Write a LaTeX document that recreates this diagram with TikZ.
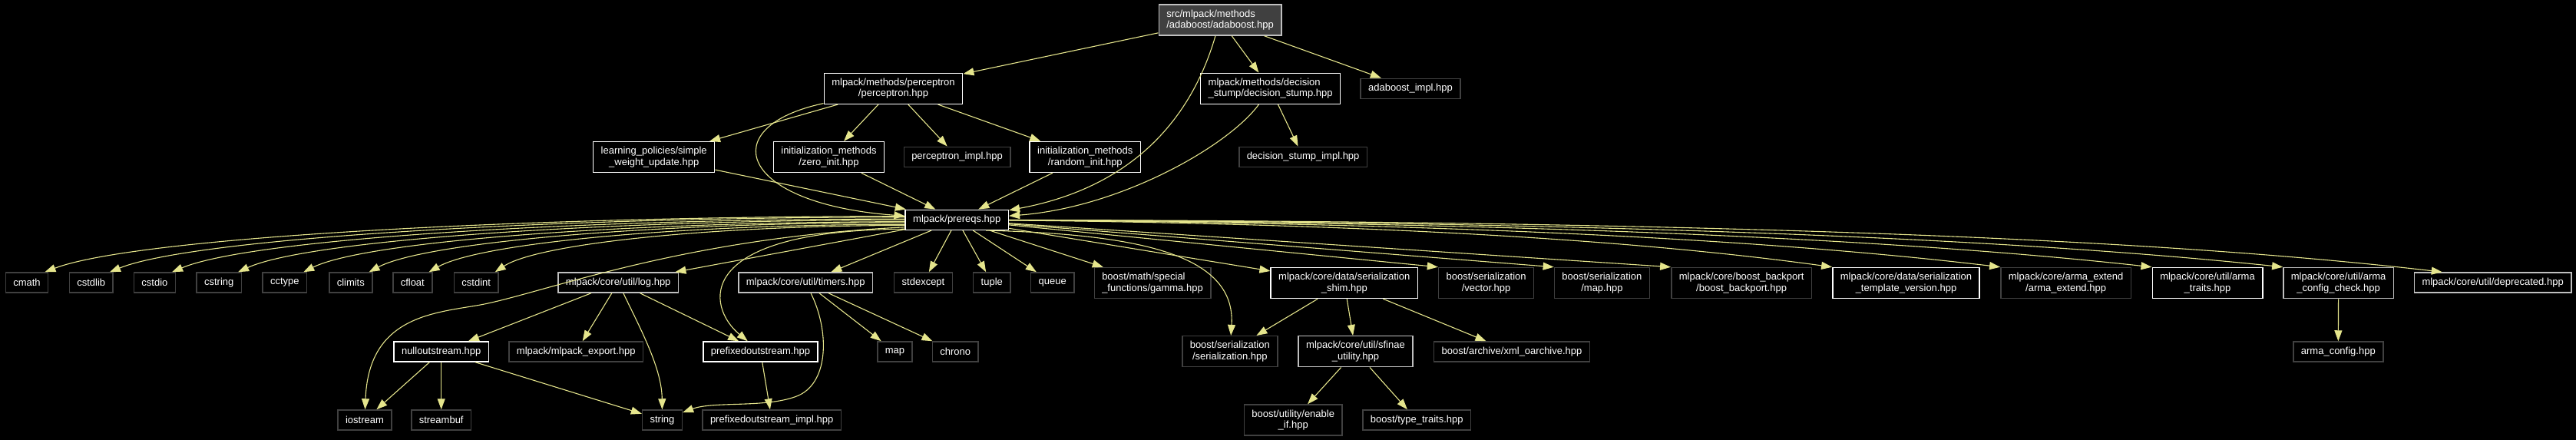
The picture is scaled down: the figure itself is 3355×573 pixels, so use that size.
\documentclass[tikz,border=0pt]{standalone}
\usepackage{fontspec}
\setmainfont{Liberation Sans}
\usepackage{xcolor}
\usepackage{tikz}
\usetikzlibrary{arrows.meta}
\definecolor{edgecol}{RGB}{229,229,140}
\definecolor{doxgrey}{RGB}{191,191,191}
\definecolor{doxdark}{RGB}{64,64,64}

\begin{document}
\begin{tikzpicture}[x=1pt, y=-1pt, >={Triangle[length=14pt,width=10pt]},
    filebox/.style={rectangle, fill=black, text=white, line width=1.5pt,
        inner xsep=10pt, inner ysep=2pt, minimum height=26pt, align=center,
        font=\fontsize{13}{14.5}\selectfont},
    docnode/.style={filebox, draw=white},
    greynode/.style={filebox, draw=doxgrey},
    extnode/.style={filebox, draw=doxdark},
    rootnode/.style={filebox, draw=doxgrey, fill=doxdark},
    twoline/.style={minimum height=40pt},
    dep/.style={->, draw=edgecol, line width=1.1pt}]
    % Nền
    \useasboundingbox[fill=black] (0,0) rectangle (3355,573);

    % Vẽ các nút phía trên
    \node[rootnode, twoline, align=left] (root) at (1589,26) {src/mlpack/methods\\/adaboost/adaboost.hpp};
    \node[docnode, twoline] (perceptron) at (1163.5,115.3) {mlpack/methods/perceptron\\/perceptron.hpp};
    \node[docnode, twoline, align=left] (dstump) at (1654.6,115.3) {mlpack/methods/decision\\\_stump/decision\_stump.hpp};
    \node[extnode] (adaimpl) at (1837,115.3) {adaboost\_impl.hpp};
    \node[docnode, twoline] (learnpol) at (851.7,204.7) {learning\_policies/simple\\\_weight\_update.hpp};
    \node[docnode, twoline] (zeroinit) at (1079.5,204.5) {initialization\_methods\\/zero\_init.hpp};
    \node[extnode] (percimpl) at (1246.5,204.3) {perceptron\_impl.hpp};
    \node[docnode, twoline] (randinit) at (1413.3,204.5) {initialization\_methods\\/random\_init.hpp};
    \node[extnode] (dsimpl) at (1697.1,204.3) {decision\_stump\_impl.hpp};
    \node[docnode] (prereqs) at (1246.3,286.3) {mlpack/prereqs.hpp};

    % Vẽ hàng giữa
    \node[extnode] (cmath) at (35,368) {cmath};
    \node[extnode] (cstdlib) at (118.8,368) {cstdlib};
    \node[extnode] (cstdio) at (201.4,368) {cstdio};
    \node[extnode] (cstring) at (285.2,368) {cstring};
    \node[extnode] (cctype) at (370.8,368) {cctype};
    \node[extnode] (climits) at (456.8,368) {climits};
    \node[extnode] (cfloat) at (537.3,368) {cfloat};
    \node[extnode] (cstdint) at (620.2,368) {cstdint};
    \node[greynode] (log) at (805.2,368) {mlpack/core/util/log.hpp};
    \node[greynode] (timers) at (1049.2,368) {mlpack/core/util/timers.hpp};
    \node[extnode] (stdexcept) at (1202.5,368) {stdexcept};
    \node[extnode] (tuple) at (1291.8,368) {tuple};
    \node[extnode] (queue) at (1370.8,368) {queue};
    \node[extnode, twoline, align=left] (gamma) at (1501,368.5) {boost/math/special\\\_functions/gamma.hpp};
    \node[docnode, twoline] (shim) at (1750.8,368.5) {mlpack/core/data/serialization\\\_shim.hpp};
    \node[extnode, twoline] (svector) at (1935.6,368.5) {boost/serialization\\/vector.hpp};
    \node[extnode, twoline] (smap) at (2086.4,368.5) {boost/serialization\\/map.hpp};
    \node[extnode, twoline] (backport) at (2268.1,368.5) {mlpack/core/boost\_backport\\/boost\_backport.hpp};
    \node[docnode, twoline] (tmplver) at (2482.5,368.5) {mlpack/core/data/serialization\\\_template\_version.hpp};
    \node[extnode, twoline] (armaext) at (2690.6,368.5) {mlpack/core/arma\_extend\\/arma\_extend.hpp};
    \node[docnode, twoline] (armatraits) at (2875,368.5) {mlpack/core/util/arma\\\_traits.hpp};
    \node[greynode, twoline] (armacheck) at (3045.6,368.5) {mlpack/core/util/arma\\\_config\_check.hpp};
    \node[greynode] (deprecated) at (3246.6,368) {mlpack/core/util/deprecated.hpp};

    % Vẽ các nút phía dưới
    \node[docnode] (nullout) at (574.7,458) {nulloutstream.hpp};
    \node[extnode] (mlexport) at (750.3,458) {mlpack/mlpack\_export.hpp};
    \node[docnode] (prefout) at (990.5,458) {prefixedoutstream.hpp};
    \node[extnode] (stdmap) at (1165.4,458) {map};
    \node[extnode] (chrono) at (1244.3,458) {chrono};
    \node[extnode, twoline] (sser) at (1601.8,457.7) {boost/serialization\\/serialization.hpp};
    \node[greynode, twoline] (sfinae) at (1765.5,457.7) {mlpack/core/util/sfinae\\\_utility.hpp};
    \node[extnode] (xmlarch) at (1969,458) {boost/archive/xml\_oarchive.hpp};
    \node[extnode] (armaconfig) at (3045.3,458) {arma\_config.hpp};
    \node[extnode] (iostream) at (475,547) {iostream};
    \node[extnode] (streambuf) at (574.7,547) {streambuf};
    \node[extnode] (string) at (862.5,547) {string};
    \node[extnode] (prefimpl) at (1005.2,547) {prefixedoutstream\_impl.hpp};
    \node[extnode, twoline] (enableif) at (1684.2,547) {boost/utility/enable\\\_if.hpp};
    \node[extnode] (typetraits) at (1845.2,547) {boost/type\_traits.hpp};

    % Vẽ các mũi tên phía trên
    \draw[dep] (root) -- (perceptron);
    \draw[dep] (root) -- (dstump);
    \draw[dep] (root) -- (adaimpl);
    \draw[dep] (root) .. controls (1550,160) and (1470,245) .. (prereqs);
    \draw[dep] (perceptron) -- (learnpol);
    \draw[dep] (perceptron) -- (zeroinit);
    \draw[dep] (perceptron) -- (percimpl);
    \draw[dep] (perceptron) -- (randinit);
    \draw[dep] (perceptron) .. controls (930,165) and (960,265) .. (prereqs);
    \draw[dep] (learnpol) -- (prereqs);
    \draw[dep] (zeroinit) -- (prereqs);
    \draw[dep] (randinit) -- (prereqs);
    \draw[dep] (dstump) -- (dsimpl);
    \draw[dep] (dstump) .. controls (1600,190) and (1460,270) .. (prereqs);

    % Vẽ các mũi tên từ prereqs sang trái
    \draw[dep] (prereqs.176) .. controls (664,282) and (174,310) .. ([xshift=-5pt]cmath.north east);
    \draw[dep] (prereqs.177) .. controls (701,283) and (250,311) .. ([xshift=-5pt]cstdlib.north east);
    \draw[dep] (prereqs.179) .. controls (738,285) and (324,312) .. ([xshift=-5pt]cstdio.north east);
    \draw[dep] (prereqs.180) .. controls (776,287) and (400,313) .. ([xshift=-5pt]cstring.north east);
    \draw[dep] (prereqs.182) .. controls (815,289) and (476,314) .. ([xshift=-5pt]cctype.north east);
    \draw[dep] (prereqs.183) .. controls (853,290) and (554,315) .. ([xshift=-5pt]climits.north east);
    \draw[dep] (prereqs.185) .. controls (890,292) and (626,316) .. ([xshift=-5pt]cfloat.north east);
    \draw[dep] (prereqs.186) .. controls (927,294) and (701,317) .. ([xshift=-5pt]cstdint.north east);
    \draw[dep] (prereqs) -- (log);
    \draw[dep] (prereqs.188) .. controls (880,310) and (700,385) .. (620,398) .. controls (560,408) and (480,415) .. (iostream);
    \draw[dep] (prereqs.190) .. controls (900,300) and (920,400) .. (prefout);
    \draw[dep] (prereqs) -- (timers);
    \draw[dep] (prereqs) -- (stdexcept);
    \draw[dep] (prereqs) -- (tuple);
    \draw[dep] (prereqs) -- (queue);

    % Vẽ các mũi tên từ prereqs sang phải
    \draw[dep] (prereqs) -- (gamma);
    \draw[dep] (prereqs.-20) .. controls (1480,305) and (1610,330) .. (sser);
    \draw[dep] (prereqs) -- (shim);
    \draw[dep] (prereqs) -- (svector.north west);
    \draw[dep] (prereqs) -- (smap.north west);
    \draw[dep] (prereqs) -- (backport.north west);
    \draw[dep] (prereqs) .. controls (1850,292) and (2170,318) .. (tmplver.north west);
    \draw[dep] (prereqs) .. controls (1959,291) and (2346,317) .. (armaext.north west);
    \draw[dep] (prereqs) .. controls (2057,290) and (2504,315) .. (armatraits.north west);
    \draw[dep] (prereqs) .. controls (2143,289) and (2640,313) .. (armacheck.north west);
    \draw[dep] (prereqs) .. controls (2247,288) and (2807,311) .. ([xshift=37pt]deprecated.north west);

    % Vẽ các mũi tên phía dưới
    \draw[dep] (log) -- (nullout);
    \draw[dep] (log) -- (mlexport);
    \draw[dep] (log) .. controls (835,430) and (862,480) .. (string);
    \draw[dep] (log) -- (prefout);
    \draw[dep] (nullout) -- (iostream);
    \draw[dep] (nullout) -- (streambuf);
    \draw[dep] (nullout) -- (string);
    \draw[dep] (prefout) -- (prefimpl);
    \draw[dep] (timers) -- (stdmap);
    \draw[dep] (timers) -- (chrono);
    \draw[dep] (timers) .. controls (1080,430) and (1080,497) .. (1040,515) .. controls (1000,532) and (930,522) .. (string);
    \draw[dep] (shim) -- (sser);
    \draw[dep] (shim) -- (sfinae);
    \draw[dep] (shim) -- (xmlarch);
    \draw[dep] (sfinae) -- (enableif);
    \draw[dep] (sfinae) -- (typetraits);
    \draw[dep] (armacheck) -- (armaconfig);

\end{tikzpicture}
\end{document}
